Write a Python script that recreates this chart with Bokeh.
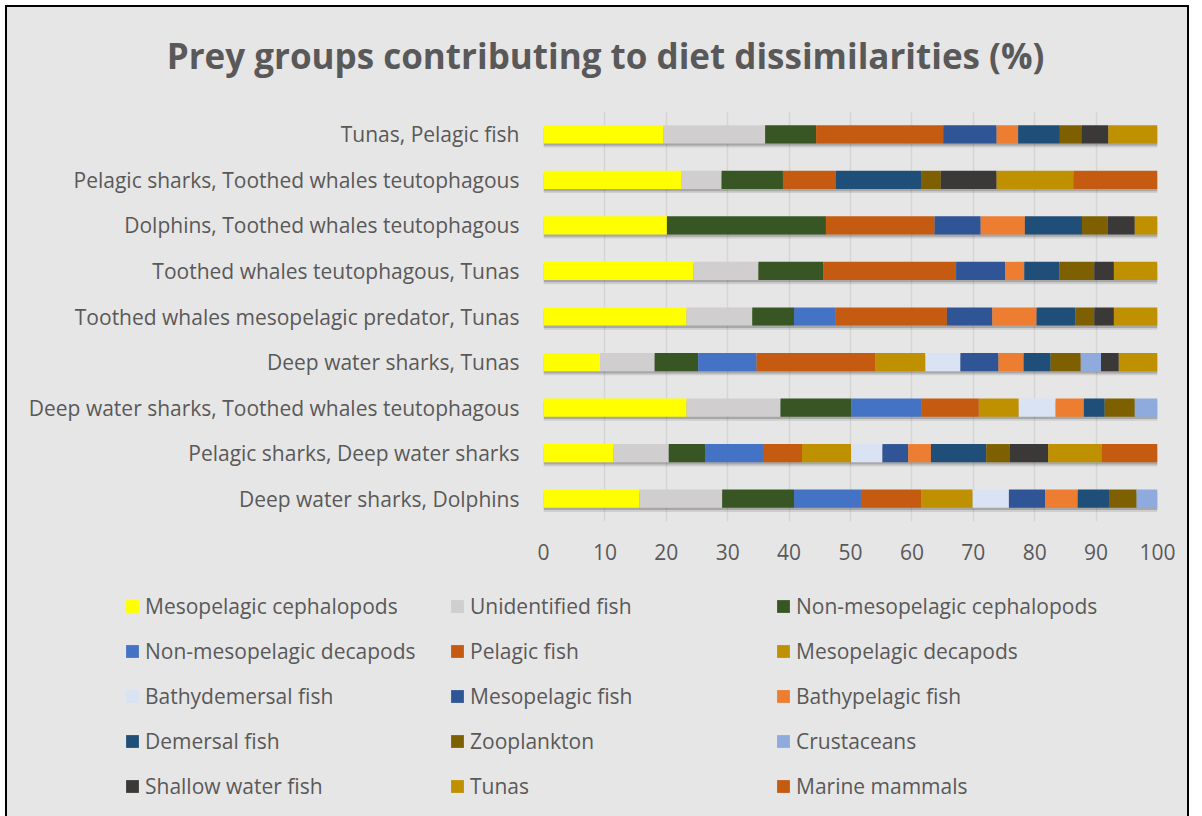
from bokeh.plotting import figure
from bokeh.layouts import column
from bokeh.models import ColumnDataSource, FactorRange, Range1d, Legend, LegendItem, FixedTicker, Label
from bokeh.transform import dodge
from bokeh.embed import file_html
from bokeh.resources import INLINE

# ---------------- data ----------------
pairs = [
    "Tunas, Pelagic fish",
    "Pelagic sharks, Toothed whales teutophagous",
    "Dolphins, Toothed whales teutophagous",
    "Toothed whales teutophagous, Tunas",
    "Toothed whales mesopelagic predator, Tunas",
    "Deep water sharks, Tunas",
    "Deep water sharks, Toothed whales teutophagous",
    "Pelagic sharks, Deep water sharks",
    "Deep water sharks, Dolphins",
]

prey_groups = [
    "Mesopelagic cephalopods", "Unidentified fish", "Non-mesopelagic cephalopods",
    "Non-mesopelagic decapods", "Pelagic fish", "Mesopelagic decapods",
    "Bathydemersal fish", "Mesopelagic fish", "Bathypelagic fish",
    "Demersal fish", "Zooplankton", "Crustaceans",
    "Shallow water fish", "Tunas", "Marine mammals",
]

colors = [
    "#FFFF00", "#D0CECE", "#375623",
    "#4472C4", "#C55A11", "#BF9000",
    "#DAE3F3", "#2F5597", "#ED7D31",
    "#1F4E79", "#7F6000", "#8FAADC",
    "#3B3838", "#BF9000", "#C55A11",
]

# values (%) per prey group, in the order of `pairs`
mesopelagic_cephalopods = [19.5, 22.4, 20.1, 24.4, 23.3, 9.2, 23.3, 11.4, 15.6]
unidentified_fish = [16.6, 6.6, 0, 10.6, 10.7, 8.9, 15.3, 9.0, 13.5]
non_mesopelagic_cephalopods = [8.3, 10.0, 25.9, 10.6, 6.8, 7.1, 11.5, 6.0, 11.7]
non_mesopelagic_decapods = [0, 0, 0, 0, 6.7, 9.5, 11.4, 9.5, 10.9]
pelagic_fish = [20.7, 8.6, 17.7, 21.6, 18.2, 19.3, 9.4, 6.2, 9.8]
mesopelagic_decapods = [0, 0, 0, 0, 0, 8.2, 6.5, 8.0, 8.4]
bathydemersal_fish = [0, 0, 0, 0, 0, 5.7, 6.0, 5.1, 5.9]
mesopelagic_fish = [8.7, 0, 7.5, 8.0, 7.4, 6.2, 0, 4.2, 5.9]
bathypelagic_fish = [3.5, 0, 7.2, 3.1, 7.2, 4.1, 4.6, 3.7, 5.3]
demersal_fish = [6.8, 14.0, 9.3, 5.7, 6.3, 4.4, 3.4, 9.0, 5.1]
zooplankton = [3.5, 3.1, 4.2, 5.7, 3.1, 4.9, 4.9, 3.8, 4.5]
crustaceans = [0, 0, 0, 0, 0, 3.3, 3.7, 0, 3.4]
shallow_water_fish = [4.4, 9.1, 4.4, 3.2, 3.2, 2.9, 0, 6.3, 0]
tunas = [8.0, 12.5, 3.7, 7.1, 7.1, 6.3, 0, 8.7, 0]
marine_mammals = [0, 13.7, 0, 0, 0, 0, 0, 9.1, 0]

x_ticks = [0, 10, 20, 30, 40, 50, 60, 70, 80, 90, 100]

series = [
    mesopelagic_cephalopods, unidentified_fish, non_mesopelagic_cephalopods,
    non_mesopelagic_decapods, pelagic_fish, mesopelagic_decapods,
    bathydemersal_fish, mesopelagic_fish, bathypelagic_fish,
    demersal_fish, zooplankton, crustaceans,
    shallow_water_fish, tunas, marine_mammals,
]

# ---------------- build ----------------
keys = ["s%d" % i for i in range(len(prey_groups))]
data = {"pair": pairs}
for k, vals in zip(keys, series):
    data[k] = vals
data["total"] = [sum(v[i] for v in series) for i in range(len(pairs))]
data["zero"] = [0] * len(pairs)
source = ColumnDataSource(data)

TEXT = "#595959"
BG = "#E7E6E6"
FONT = "Open Sans"
FS = "21px"
W = 1180


def bare(height, **kw):
    f = figure(width=W, height=height, output_backend="svg", toolbar_location=None,
               x_axis_type=None, y_axis_type=None,
               min_border_left=0, min_border_right=0, min_border_top=0, min_border_bottom=0,
               background_fill_color=BG, border_fill_color=BG, outline_line_color=None,
               **kw)
    f.frame_align = False
    f.xgrid.visible = False
    f.ygrid.visible = False
    return f


# ---- title strip ----
t = bare(104)
t.add_layout(Label(
    x=598, y=56, x_units="screen", y_units="screen",
    text="Prey groups contributing to diet dissimilarities (%)",
    text_align="center", text_baseline="middle",
    text_font=FONT, text_font_size="35px", text_font_style="bold",
    text_color=TEXT,
))

# ---- main chart ----
p = figure(
    y_range=FactorRange(factors=list(reversed(pairs))),
    x_range=Range1d(0, 100),
    width=W, height=469,
    output_backend="svg", toolbar_location=None,
    min_border_left=536, min_border_right=30,
    min_border_top=0, min_border_bottom=59,
    background_fill_color=BG, border_fill_color=BG,
    outline_line_color=None,
)
p.frame_align = False

# shadows
p.hbar(y=dodge("pair", -0.09, range=p.y_range), left="zero",
       right=dodge("total", 0.25, range=p.x_range), height=0.40, source=source,
       fill_color="#000000", fill_alpha=0.10, line_color=None)
p.hbar(y=dodge("pair", -0.05, range=p.y_range), left="zero",
       right=dodge("total", 0.15, range=p.x_range), height=0.40, source=source,
       fill_color="#000000", fill_alpha=0.18, line_color=None)

renderers = p.hbar_stack(keys, y="pair", height=0.40, color=colors,
                         line_color=None, source=source)

p.xaxis.ticker = FixedTicker(ticks=x_ticks)
p.xaxis.axis_line_color = None
p.xaxis.major_tick_line_color = None
p.xaxis.minor_tick_line_color = None
p.xaxis.major_label_text_font = FONT
p.xaxis.major_label_text_font_size = FS
p.xaxis.major_label_text_color = TEXT
p.xaxis.major_label_standoff = 16

p.yaxis.axis_line_color = None
p.yaxis.major_tick_line_color = None
p.yaxis.minor_tick_line_color = None
p.yaxis.major_label_text_font = FONT
p.yaxis.major_label_text_font_size = FS
p.yaxis.major_label_text_color = TEXT
p.yaxis.major_label_standoff = 18

p.xgrid.ticker = FixedTicker(ticks=x_ticks)
p.xgrid.grid_line_color = "#D5D5D5"
p.xgrid.grid_line_width = 1.5
p.ygrid.grid_line_color = None

# ---- legend strip: same stacked series (kept outside this strip's view) ----
lg = bare(236, x_range=Range1d(-300, -200), y_range=FactorRange(factors=list(reversed(pairs))))
swatches = lg.hbar_stack(keys, y="pair", height=0.40, color=colors,
                         line_color=None, source=source)
col_x = [117, 442, 768]
for c in range(3):
    idx = list(range(c, len(prey_groups), 3))
    leg = Legend(
        items=[LegendItem(label=prey_groups[i], renderers=[swatches[i]]) for i in idx],
        location=(col_x[c], 16), orientation="vertical",
        padding=0, margin=0, spacing=16,
        glyph_width=16, glyph_height=16, label_height=29, label_standoff=5,
        label_text_font=FONT, label_text_font_size=FS, label_text_color=TEXT,
        border_line_color=None, background_fill_alpha=0,
    )
    lg.add_layout(leg, "center")

layout = column(t, p, lg, spacing=0,
                styles={"border": "2px solid #000000", "margin-left": "5px",
                        "margin-top": "5px", "background-color": BG})

open("out.html", "w").write(file_html(layout, INLINE))
